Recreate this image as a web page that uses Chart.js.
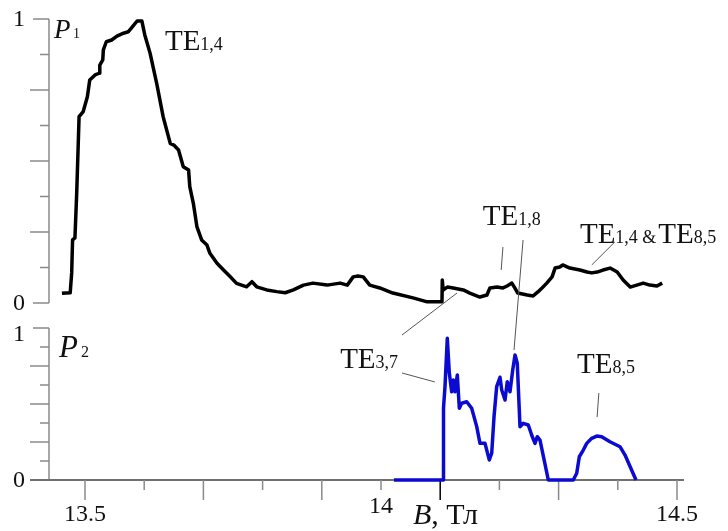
<!DOCTYPE html>
<html>
<head>
<meta charset="utf-8">
<script src="https://cdn.jsdelivr.net/npm/chart.js@4.4.0/dist/chart.umd.min.js"></script>
<style>
  html, body { margin: 0; background: #fff; }
  #wrap { width: 728px; height: 531px; }
</style>
</head>
<body>
<div id="wrap"><canvas id="modes"></canvas></div>
<script>
// upper trace P1 (black): field B, normalised power
const b1 = [13.461, 13.475, 13.4775, 13.479, 13.483, 13.486, 13.490, 13.497, 13.504, 13.508,
  13.517, 13.524, 13.525, 13.530, 13.531, 13.536, 13.545, 13.554, 13.565, 13.573,
  13.581, 13.588, 13.596, 13.601, 13.610, 13.621, 13.632, 13.644, 13.650, 13.658,
  13.666, 13.675, 13.677, 13.683, 13.689, 13.697, 13.706, 13.711, 13.723, 13.734,
  13.745, 13.756, 13.773, 13.782, 13.790, 13.807, 13.824, 13.838, 13.852, 13.869,
  13.885, 13.909, 13.931, 13.943, 13.953, 13.961, 13.970, 13.981, 13.998, 14.020,
  14.054, 14.078, 14.103, 14.1035, 14.105, 14.112, 14.122, 14.139, 14.150, 14.167,
  14.179, 14.184, 14.196, 14.206, 14.213, 14.221, 14.226, 14.231, 14.247, 14.257,
  14.265, 14.272, 14.280, 14.289, 14.294, 14.302, 14.307, 14.319, 14.336, 14.348,
  14.356, 14.365, 14.375, 14.387, 14.399, 14.409, 14.421, 14.432, 14.443, 14.454,
  14.466, 14.475];
const p1 = [0.034, 0.036, 0.106, 0.222, 0.229, 0.387, 0.656, 0.674, 0.726, 0.785,
  0.803, 0.809, 0.838, 0.856, 0.891, 0.920, 0.926, 0.940, 0.950, 0.955,
  0.975, 0.993, 0.993, 0.944, 0.879, 0.774, 0.656, 0.562, 0.556, 0.539,
  0.480, 0.468, 0.410, 0.351, 0.269, 0.222, 0.204, 0.175, 0.140, 0.116,
  0.093, 0.069, 0.057, 0.075, 0.057, 0.046, 0.040, 0.036, 0.046, 0.063,
  0.070, 0.063, 0.070, 0.063, 0.092, 0.095, 0.092, 0.063, 0.053, 0.035,
  0.018, 0.004, 0.004, 0.081, 0.046, 0.056, 0.053, 0.046, 0.035, 0.021,
  0.028, 0.053, 0.056, 0.053, 0.060, 0.070, 0.053, 0.035, 0.028, 0.025,
  0.039, 0.053, 0.070, 0.092, 0.123, 0.127, 0.134, 0.123, 0.116, 0.109,
  0.106, 0.109, 0.116, 0.123, 0.109, 0.081, 0.056, 0.063, 0.070, 0.063,
  0.060, 0.070];

// lower trace P2 (blue)
const b2 = [14.022, 14.1052, 14.1056, 14.1081, 14.1120, 14.1154, 14.1194, 14.1221, 14.1250, 14.1289,
  14.1323, 14.1363, 14.1448, 14.1532, 14.1617, 14.1672, 14.1757, 14.1829, 14.1870, 14.1909,
  14.1954, 14.2010, 14.2039, 14.2095, 14.2133, 14.2179, 14.2225, 14.2264, 14.2302, 14.2348,
  14.2404, 14.2488, 14.2545, 14.2601, 14.2640, 14.2686, 14.2826, 14.3248, 14.3306, 14.3350,
  14.3417, 14.3475, 14.3559, 14.3644, 14.3728, 14.3868, 14.4037, 14.4122, 14.4307];
const p2 = [0, 0, 0.474, 0.614, 0.932, 0.704, 0.581, 0.658, 0.581, 0.691,
  0.472, 0.505, 0.515, 0.472, 0.351, 0.241, 0.241, 0.132, 0.176, 0.416,
  0.614, 0.676, 0.592, 0.526, 0.647, 0.581, 0.724, 0.822, 0.768, 0.351,
  0.373, 0.362, 0.296, 0.241, 0.285, 0.263, 0, 0, 0.044, 0.153,
  0.197, 0.241, 0.274, 0.289, 0.285, 0.252, 0.219, 0.164, 0];

// axis ticks and labels
const xTicks = [13.5, 13.6, 13.7, 13.8, 13.9, 14.0, 14.1, 14.2, 14.3, 14.4, 14.5];
const xTickLabels = ['13.5', '14', '14.5'];
const xLabelValues = [13.5, 14, 14.5];
const yTicks = [0, 0.125, 0.25, 0.375, 0.5, 0.625, 0.75, 0.875, 1];
const yTickLabels = ['0', '1'];

// mode labels: [axis, B, P, text, subscript, text, subscript...]
const modeLabels = [
  ['p1', 13.635, 0.891, ['TE', '1,4']],
  ['p1', 14.172, 0.275, ['TE', '1,8']],
  ['p1', 14.336, 0.211, ['TE', '1,4 &', 'TE', '8,5']],
  ['p2', 13.931, 0.737, ['TE', '3,7']],
  ['p2', 14.331, 0.704, ['TE', '8,5']]
];
// leader lines from labels to the traces
const leaders = [
  [['p1', 14.206, 0.197], ['p1', 14.203, 0.116]],
  [['p1', 14.240, 0.222], ['p2', 14.2247, 0.855]],
  [['p1', 14.395, 0.215], ['p1', 14.356, 0.134]],
  [['p1', 14.1284, 0.035], ['p2', 14.0355, 0.954]],
  [['p2', 14.0355, 0.704], ['p2', 14.091, 0.645]],
  [['p2', 14.368, 0.572], ['p2', 14.365, 0.414]]
];

// pixel layout of the two panels inside the plot area
const area = { left: 49, right: 684, top: 19, bottom: 480 };
const panel1 = { top: 19, bottom: 303 };
const panel2 = { top: 328, bottom: 480 };
const span1 = (area.bottom - area.top) / (panel1.bottom - panel1.top);
const span2 = (area.bottom - area.top) / (panel2.bottom - panel2.top);

const SERIF = '"Liberation Serif", "DejaVu Serif", serif';
const AXIS = '#8a8a8a';

function drawParts(ctx, x, y, parts) {
  parts.forEach((t, i) => {
    ctx.font = (i % 2 === 0 ? '29px ' : '18px ') + SERIF;
    ctx.fillText(t, x, y);
    x += ctx.measureText(t).width + (i % 2 === 1 ? 2 : 0);
  });
}

const panelAxes = {
  id: 'panelAxes',
  beforeDatasetsDraw(chart) {
    const { ctx, scales } = chart;
    const xs = scales.x;
    ctx.save();
    ctx.strokeStyle = AXIS;
    ctx.lineWidth = 1.5;
    ctx.fillStyle = '#111';
    ctx.font = '24px ' + SERIF;
    ctx.textAlign = 'right';
    ctx.textBaseline = 'middle';
    ['p1', 'p2'].forEach(id => {
      const s = scales[id];
      const x0 = xs.left;
      ctx.beginPath();
      ctx.moveTo(x0, s.getPixelForValue(1));
      ctx.lineTo(x0, s.getPixelForValue(0));
      ctx.stroke();
      yTicks.forEach((v, i) => {
        const len = (v === 0 || v === 1) ? 16 : (i % 2 === 0 ? 19 : 9);
        const y = s.getPixelForValue(v);
        ctx.beginPath();
        ctx.moveTo(x0 - len, y);
        ctx.lineTo(x0, y);
        ctx.stroke();
      });
      yTickLabels.forEach(t => {
        const y = s.getPixelForValue(Number(t));
        const dy = (id === 'p2' && t === '1') ? 7 : 1;
        ctx.fillText(t, 25, y + dy);
      });
    });
    // B axis under the lower panel
    const yb = scales.p2.getPixelForValue(0);
    ctx.strokeStyle = '#707070';
    ctx.lineWidth = 2;
    ctx.beginPath();
    ctx.moveTo(30, yb);
    ctx.lineTo(xs.right, yb);
    ctx.stroke();
    ctx.lineWidth = 1.5;
    xTicks.forEach((v, i) => {
      const x = xs.getPixelForValue(v);
      ctx.strokeStyle = Math.abs(v - 14.1) < 1e-6 ? '#000' : AXIS;
      ctx.beginPath();
      ctx.moveTo(x, yb);
      ctx.lineTo(x, yb + (i % 2 === 0 ? 20 : 10));
      ctx.stroke();
    });
    ctx.textAlign = 'center';
    ctx.textBaseline = 'alphabetic';
    xTickLabels.forEach((t, i) => {
      const v = xLabelValues[i];
      ctx.fillText(t, xs.getPixelForValue(v), yb + (v === 14 ? 33 : 41));
    });
    ctx.restore();
  },
  afterDatasetsDraw(chart) {
    const { ctx, scales } = chart;
    const xs = scales.x;
    const pt = ([id, b, v]) => [xs.getPixelForValue(b), scales[id].getPixelForValue(v)];
    ctx.save();
    ctx.strokeStyle = '#555';
    ctx.lineWidth = 1;
    leaders.forEach(([a, b]) => {
      const [x1, y1] = pt(a), [x2, y2] = pt(b);
      ctx.beginPath();
      ctx.moveTo(x1, y1);
      ctx.lineTo(x2, y2);
      ctx.stroke();
    });
    ctx.fillStyle = '#111';
    ctx.textAlign = 'left';
    ctx.textBaseline = 'alphabetic';
    modeLabels.forEach(([id, b, v, parts]) => {
      const [x, y] = pt([id, b, v]);
      drawParts(ctx, x, y, parts);
    });
    // panel names
    const top1 = scales.p1.getPixelForValue(1);
    const top2 = scales.p2.getPixelForValue(1);
    ctx.font = 'italic 27px ' + SERIF;
    ctx.fillText('P', 54, top1 + 19);
    ctx.font = '14px ' + SERIF;
    ctx.fillText('1', 73, top1 + 19);
    ctx.font = 'italic 31px ' + SERIF;
    ctx.fillText('P', 59, top2 + 29);
    ctx.font = '16px ' + SERIF;
    ctx.fillText('2', 81, top2 + 29);
    // B axis title
    const yb = scales.p2.getPixelForValue(0);
    let x = xs.getPixelForValue(14.054);
    ctx.font = 'italic 30px ' + SERIF;
    ctx.fillText('B', x, yb + 44);
    x += ctx.measureText('B').width;
    ctx.font = '30px ' + SERIF;
    ctx.fillText(', Тл', x, yb + 44);
    ctx.restore();
  }
};

new Chart(document.getElementById('modes'), {
  type: 'line',
  data: {
    datasets: [
      {
        label: 'P1',
        data: b1.map((b, i) => ({ x: b, y: p1[i] })),
        yAxisID: 'p1',
        borderColor: '#000',
        borderWidth: 3.5,
        pointRadius: 0,
        tension: 0,
        borderJoinStyle: 'round',
        clip: false
      },
      {
        label: 'P2',
        data: b2.map((b, i) => ({ x: b, y: p2[i] })),
        yAxisID: 'p2',
        borderColor: '#0a0ad0',
        borderWidth: 3.5,
        pointRadius: 0,
        tension: 0,
        borderJoinStyle: 'round',
        clip: false
      }
    ]
  },
  options: {
    responsive: true,
    maintainAspectRatio: false,
    animation: false,
    layout: {
      padding: { left: area.left, right: 728 - area.right, top: area.top, bottom: 531 - area.bottom }
    },
    plugins: { legend: { display: false }, tooltip: { enabled: false } },
    scales: {
      x: { type: 'linear', display: false,
           min: 13.5 - (85 - area.left) / 592, max: 13.5 + (area.right - 85) / 592 },
      p1: { type: 'linear', display: false, min: 1 - span1, max: 1 },
      p2: { type: 'linear', display: false, min: 0, max: span2 }
    }
  },
  plugins: [panelAxes]
});
</script>
</body>
</html>
